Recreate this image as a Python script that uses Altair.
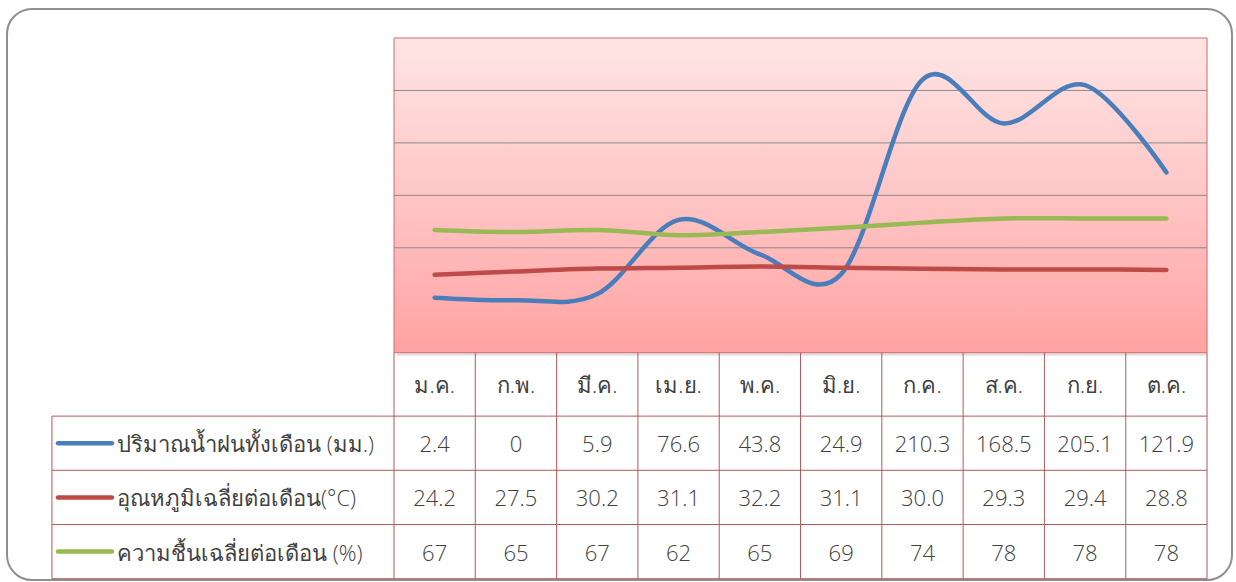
import altair as alt
import pandas as pd

# ---- data ----
months = ["ม.ค.", "ก.พ.", "มี.ค.", "เม.ย.", "พ.ค.", "มิ.ย.", "ก.ค.", "ส.ค.", "ก.ย.", "ต.ค."]
rain = [2.4, 0, 5.9, 76.6, 43.8, 24.9, 210.3, 168.5, 205.1, 121.9]
temp = [24.2, 27.5, 30.2, 31.1, 32.2, 31.1, 30.0, 29.3, 29.4, 28.8]
hum = [67, 65, 67, 62, 65, 69, 74, 78, 78, 78]
series_labels = ["ปริมาณน้ำฝนทั้งเดือน (มม.)", "อุณหภูมิเฉลี่ยต่อเดือน(°C)", "ความชื้นเฉลี่ยต่อเดือน (%)"]
series_colors = ["#4a7ebb", "#be4b48", "#98b954"]
grid_values = [50, 100, 150, 200]
y_domain = [-50, 250]

rain_txt = [f"{v:g}" for v in rain]
temp_txt = [f"{v:.1f}" for v in temp]
hum_txt = [str(v) for v in hum]

# ---- layout constants (pixels / column units) ----
FONT = "Open Sans"
FW = 300
FS = 22
TXT = "#404040"
W, H = 1225, 571
XS = alt.Scale(domain=[-4.760, 10.307], range=[0, W])
YL = alt.Scale(domain=y_domain, range=[343.7, 29])
YT = alt.Scale(domain=[-1.17, 3], range=[343.7, 569.7])
LABEL_LEFT = -4.207
SW_X1, SW_X2, LBL_X = -4.133, -3.469, -3.407
HEADER_Y = -0.585


def X(f, **kw):
    return alt.X(f, type="quantitative", scale=XS, axis=None, **kw)


def YLn(f):
    return alt.Y(f, type="quantitative", scale=YL, axis=None)


def YTb(f):
    return alt.Y(f, type="quantitative", scale=YT, axis=None)


# line data
rows = []
for s, vals in zip(series_labels, [rain, temp, hum]):
    for i, v in enumerate(vals):
        rows.append({"series": s, "x": i + 0.5, "v": v, "order": i})
line_df = pd.DataFrame(rows)

bg_df = pd.DataFrame([{"x": 0, "x2": len(months), "y": y_domain[0], "y2": y_domain[1]}])
grid_df = pd.DataFrame([{"x": 0, "x2": len(months), "y": g} for g in grid_values])

gradient = alt.Gradient(
    gradient="linear",
    stops=[alt.GradientStop(color="#ffe5e5", offset=0),
           alt.GradientStop(color="#ffc6c6", offset=0.5),
           alt.GradientStop(color="#ffa2a2", offset=1)],
    x1=0, x2=0, y1=0, y2=1,
)

shadow = alt.Chart(bg_df).mark_rect(color="#000000", opacity=0.12, xOffset=3, yOffset=3).encode(
    x=X("x"), x2="x2", y=YLn("y"), y2="y2")
bg = alt.Chart(bg_df).mark_rect(fill=gradient, stroke="#d46a6a", strokeWidth=1).encode(
    x=X("x"), x2="x2", y=YLn("y"), y2="y2")
grid = alt.Chart(grid_df).mark_rule(color="#8a8a8a", strokeWidth=1).encode(
    x=X("x"), x2="x2", y=YLn("y"))

lines = alt.Chart(line_df).mark_line(
    interpolate="cardinal", tension=0, strokeWidth=4.5, strokeCap="round", strokeJoin="round"
).encode(
    x=X("x"),
    y=YLn("v"),
    color=alt.Color("series:N", scale=alt.Scale(domain=series_labels, range=series_colors), legend=None),
    detail="series:N",
    order="order:Q",
)

# table
hl = [{"x": LABEL_LEFT, "x2": len(months), "y": r, "y2": r} for r in range(4)]
vl = [{"x": LABEL_LEFT, "x2": LABEL_LEFT, "y": 0, "y2": 3}]
vl += [{"x": k, "x2": k, "y": -1.17, "y2": 3} for k in range(len(months) + 1)]
rule_df = pd.DataFrame(hl + vl)
table_rules = alt.Chart(rule_df).mark_rule(color="#b4595b", strokeWidth=1).encode(
    x=X("x"), x2="x2", y=YTb("y"), y2="y2")

text_kw = dict(font=FONT, fontSize=FS, fontWeight=FW, color=TXT, baseline="middle", dy=2)

head_df = pd.DataFrame({"x": [i + 0.5 for i in range(len(months))], "y": HEADER_Y, "t": months})
head_txt = alt.Chart(head_df).mark_text(align="center", **text_kw).encode(
    x=X("x"), y=YTb("y"), text="t:N")

cell_rows = []
for r, txts in enumerate([rain_txt, temp_txt, hum_txt]):
    for i, t in enumerate(txts):
        cell_rows.append({"x": i + 0.5, "y": r + 0.5, "t": t})
cell_df = pd.DataFrame(cell_rows)
cell_txt = alt.Chart(cell_df).mark_text(align="center", **text_kw).encode(
    x=X("x"), y=YTb("y"), text="t:N")

leg_df = pd.DataFrame({"x": SW_X1, "x2": SW_X2, "tx": LBL_X, "y": [r + 0.5 for r in range(3)],
                       "series": series_labels})
leg_sw = alt.Chart(leg_df).mark_rule(strokeWidth=4.5, strokeCap="round").encode(
    x=X("x"), x2="x2", y=YTb("y"),
    color=alt.Color("series:N", scale=alt.Scale(domain=series_labels, range=series_colors), legend=None))
leg_txt = alt.Chart(leg_df).mark_text(align="left", **text_kw).encode(
    x=X("tx"), y=YTb("y"), text="series:N")

chart = alt.layer(
    shadow, bg, grid, lines, table_rules, head_txt, cell_txt, leg_sw, leg_txt
).resolve_scale(y="independent").properties(
    width=W, height=H,
    background="white",
    padding={"left": 7, "top": 9, "right": 4, "bottom": 1},
    autosize=alt.AutoSizeParams(type="none"),
).configure_view(
    stroke="#8f8f8f", strokeWidth=2, cornerRadius=25
)

chart.save("out.html", embed_options={"renderer": "svg", "actions": False})
